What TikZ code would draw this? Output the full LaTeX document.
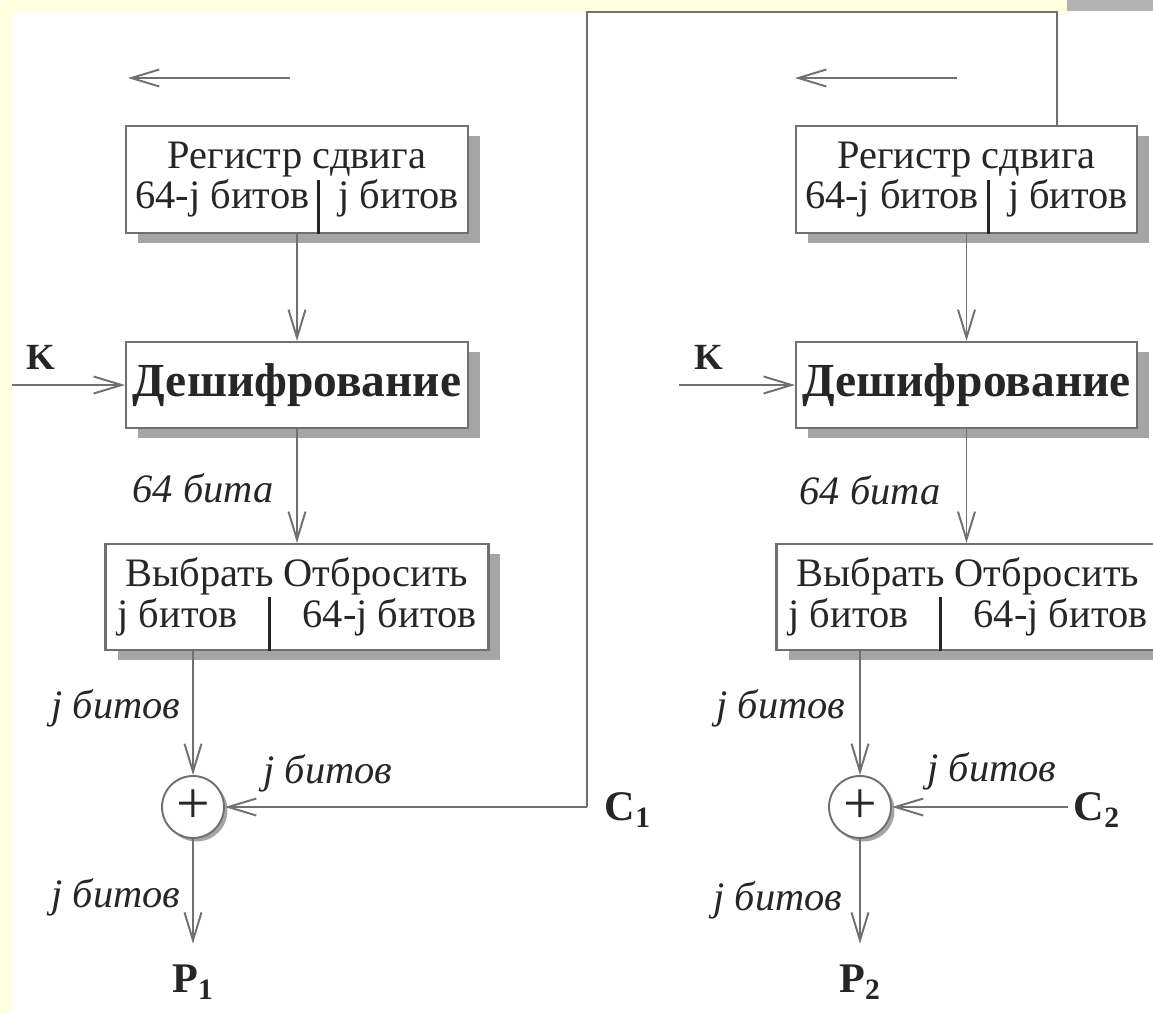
\documentclass[tikz,border=0pt]{standalone}
\usepackage{fontspec}
\setmainfont{Liberation Serif}
\usetikzlibrary{arrows.meta,shadows}

\definecolor{cream}{RGB}{255,255,224}
\definecolor{cornergray}{RGB}{178,178,178}
\definecolor{linegray}{RGB}{112,112,112}
\definecolor{shadowgray}{RGB}{165,165,165}
\definecolor{textgray}{RGB}{38,38,38}

\newcommand{\boxfont}{\fontsize{23pt}{23pt}\selectfont}
\newcommand{\decfont}{\fontsize{27pt}{27pt}\selectfont\bfseries}
\newcommand{\plusfont}{\fontsize{34pt}{34pt}\selectfont}
\newcommand{\bitsfont}{\fontsize{23pt}{23pt}\selectfont\itshape}
\newcommand{\keyfont}{\fontsize{21pt}{21pt}\selectfont\bfseries}
\newcommand{\iofont}{\fontsize{24pt}{24pt}\selectfont\bfseries}

\tikzset{
  line/.style={draw=linegray, line width=1.1pt},
  arr/.style={line, -{Straight Barb[length=0.56cm, width=0.34cm]}},
  box/.style={draw=linegray, line width=1.2pt, fill=white, text=textgray,
    inner sep=0pt, align=center, font=\boxfont,
    drop shadow={shadow xshift=0.24cm, shadow yshift=-0.2cm, fill=shadowgray, opacity=1}},
  divider/.style={draw=textgray, line width=1.7pt},
  xor/.style={circle, draw=linegray, line width=1.1pt, fill=white, text=textgray,
    minimum size=1.24cm, inner sep=0pt, font=\plusfont,
    drop shadow={shadow xshift=0.07cm, shadow yshift=-0.07cm, fill=shadowgray, opacity=1}},
  bits/.style={font=\bitsfont, text=textgray, inner sep=0pt},
  key/.style={font=\keyfont, text=textgray, inner sep=0pt},
  io/.style={font=\iofont, text=textgray}
}

\begin{document}
\begin{tikzpicture}[x=0.02cm, y=-0.02cm]
  % Background
  \useasboundingbox (0,0) rectangle (1153,1014);
  \fill[cream] (0,0) rectangle (1153,1014);
  \fill[white] (12,12) rectangle (1153,1014);
  \fill[cornergray] (1067,0) rectangle (1153,11);

  % Left column
  \node[box, minimum width=6.84cm, minimum height=2.14cm] (reg1) at (297,179.5)
    {Регистр сдвига\\\makebox[6.46cm]{64-j битов\hfill j битов}};
  \node[box, minimum width=6.84cm, minimum height=1.72cm, font=\decfont] (dec1) at (297,385) {Дешифрование};
  \node[box, minimum width=7.66cm, minimum height=2.12cm] (sel1) at (297,597)
    {Выбрать Отбросить\\\makebox[7.18cm]{j битов\hfill 64-j битов}};
  \node[xor] (plus1) at (193,807) {+};
  \node[io] (p1) at (193,982) {P\textsubscript{1}};
  \node[io] (c1) at (628,810) {C\textsubscript{1}};
  \node[key] (k1) at (41,357) {K};
  \coordinate (kin1) at (12,385);
  \coordinate (shift1a) at (290,78);
  \coordinate (shift1b) at (128,78);
  \coordinate (fb) at (587,807);
  \coordinate (fbtop) at (1057,12);

  % Right column
  \node[box, minimum width=6.82cm, minimum height=2.14cm] (reg2) at (966.5,179.5)
    {Регистр сдвига\\\makebox[6.46cm]{64-j битов\hfill j битов}};
  \node[box, minimum width=6.82cm, minimum height=1.72cm, font=\decfont] (dec2) at (966.5,385) {Дешифрование};
  \node[box, minimum width=7.66cm, minimum height=2.12cm] (sel2) at (968,597)
    {Выбрать Отбросить\\\makebox[7.18cm]{j битов\hfill 64-j битов}};
  \node[xor] (plus2) at (860,807) {+};
  \node[io] (p2) at (860,982) {P\textsubscript{2}};
  \node[io] (c2) at (1097,810) {C\textsubscript{2}};
  \node[key] (k2) at (709,357) {K};
  \coordinate (kin2) at (679,385);
  \coordinate (shift2a) at (957,78);
  \coordinate (shift2b) at (795,78);

  % Dividers inside the boxes
  \draw[divider] ([xshift=0.43cm]reg1.south) -- ([xshift=0.43cm]reg1.center);
  \draw[divider] ([xshift=0.43cm]reg2.south) -- ([xshift=0.43cm]reg2.center);
  \draw[divider] ([xshift=-0.55cm]sel1.south) -- ([xshift=-0.55cm]sel1.center);
  \draw[divider] ([xshift=-0.55cm]sel2.south) -- ([xshift=-0.55cm]sel2.center);

  % Labels
  \node[bits] (w64a) at (203,488) {64 бита};
  \node[bits] (w64b) at (870,490) {64 бита};
  \node[bits] (jsel1) at (116,708) {j битов};
  \node[bits] (jsel2) at (781,708) {j битов};
  \node[bits] (jfb1) at (328,773) {j битов};
  \node[bits] (jfb2) at (992,771) {j битов};
  \node[bits] (jout1) at (116,897) {j битов};
  \node[bits] (jout2) at (778,900) {j битов};

  % Connectors
  \draw[arr] (shift1a) -- (shift1b);
  \draw[arr] (shift2a) -- (shift2b);
  \draw[arr] (reg1) -- (dec1);
  \draw[arr] (reg2) -- (dec2);
  \draw[arr] (kin1) -- (dec1);
  \draw[arr] (kin2) -- (dec2);
  \draw[arr] (dec1) -- (dec1 |- sel1.north);
  \draw[arr] (dec2) -- (dec2 |- sel2.north);
  \draw[arr] (plus1 |- sel1.south) -- (plus1);
  \draw[arr] (plus2 |- sel2.south) -- (plus2);
  \draw[arr, shorten >=0.3cm] (plus1) -- (p1);
  \draw[arr, shorten >=0.3cm] (plus2) -- (p2);
  \draw[line] (fb) |- (fbtop) -- (fbtop |- reg2.north);
  \draw[arr] (fb) -- (plus1);
  \draw[arr] (plus2 -| c2.west) -- (plus2);
\end{tikzpicture}
\end{document}
